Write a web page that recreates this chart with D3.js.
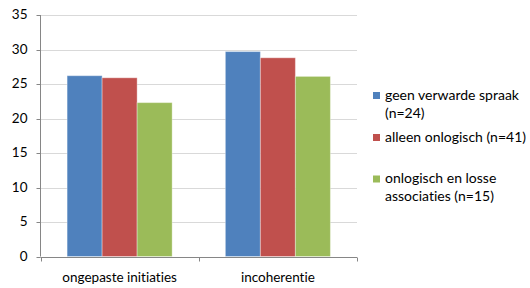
<!DOCTYPE html>
<html>
<head>
<meta charset="utf-8">
<script src="https://cdn.jsdelivr.net/npm/d3@7/dist/d3.min.js"></script>
<style>
  html, body { margin: 0; padding: 0; background: #fff; }
  svg { display: block; }
  text { font-family: Lato, "Open Sans", sans-serif; fill: #000; font-variant-ligatures: none; font-feature-settings: "liga" 0, "clig" 0; }
</style>
</head>
<body>
<svg id="chart" width="530" height="288"></svg>
<script>
const categories = ["ongepaste initiaties", "incoherentie"];
const seriesNames = ["geen verwarde spraak (n=24)", "alleen onlogisch (n=41)", "onlogisch en losse associaties (n=15)"];
const seriesLegendLines = [["geen verwarde spraak", "(n=24)"], ["alleen onlogisch (n=41)"], ["onlogisch en losse", "associaties (n=15)"]];
const seriesColors = ["#4F81BD", "#C0504D", "#9BBB59"];
const geenVerwarde = [26.2, 29.7];
const alleenOnlogisch = [25.9, 28.8];
const onlogischLosse = [22.3, 26.1];
const yTicks = [0, 5, 10, 15, 20, 25, 30, 35];

const seriesValues = [geenVerwarde, alleenOnlogisch, onlogischLosse];

(function () {
const svg = d3.select("#chart");
const pLeft = 40.5, pRight = 357, pTop = 15, pBottom = 256.5;

const y = d3.scaleLinear().domain([0, 35]).range([pBottom, pTop]);
const x0 = d3.scaleBand().domain(categories).range([pLeft, pRight]).paddingInner(0).paddingOuter(0);
const x1 = d3.scaleBand().domain(d3.range(seriesNames.length)).range([0, x0.bandwidth()]).paddingInner(0).paddingOuter(0.76);

// gridlines
svg.append("g").selectAll("line").data(yTicks.filter(d => d > 0)).join("line")
  .attr("x1", pLeft).attr("x2", pRight)
  .attr("y1", d => Math.round(y(d)) + 0.5).attr("y2", d => Math.round(y(d)) + 0.5)
  .attr("stroke", "#d9d9d9").attr("stroke-width", 1);

// y axis
const yAxis = svg.append("g").attr("transform", `translate(${pLeft},0)`)
  .call(d3.axisLeft(y).tickValues(yTicks).tickSize(4).tickPadding(9));
yAxis.select(".domain").attr("stroke", "#868686").attr("d", `M0,${y(35)}V${pBottom}`);
yAxis.selectAll(".tick line").attr("stroke", "#868686");
yAxis.selectAll(".tick text").attr("font-size", "13.5px").attr("fill", "#000").attr("dy", "0.26em")
  .attr("font-family", "Lato, sans-serif");
yAxis.selectAll(".tick").attr("transform", d => `translate(0,${Math.round(y(d)) + 0.5})`);

// bars
const groups = svg.append("g").selectAll("g").data(categories).join("g")
  .attr("transform", c => `translate(${x0(c)},0)`);
groups.selectAll("rect").data((c, ci) => seriesValues.map((vals, si) => ({si, v: vals[ci]}))).join("rect")
  .attr("x", d => x1(d.si))
  .attr("width", x1.bandwidth())
  .attr("y", d => y(d.v))
  .attr("height", d => pBottom - y(d.v))
  .attr("fill", d => seriesColors[d.si])
  .attr("stroke", "rgba(255,255,255,0.35)")
  .attr("stroke-width", 1);

// x axis
const xAxisY = Math.round(pBottom) + 0.5;
svg.append("line").attr("x1", pLeft).attr("x2", pRight).attr("y1", xAxisY).attr("y2", xAxisY)
  .attr("stroke", "#868686");
const tickXs = [pLeft, ...categories.map(c => x0(c) + x0.bandwidth())];
svg.append("g").selectAll("line").data(tickXs).join("line")
  .attr("x1", d => Math.round(d) + 0.5).attr("x2", d => Math.round(d) + 0.5)
  .attr("y1", xAxisY).attr("y2", xAxisY + 4)
  .attr("stroke", "#868686");
svg.append("g").selectAll("text").data(categories).join("text")
  .attr("x", c => x0(c) + x0.bandwidth() / 2)
  .attr("y", 282)
  .attr("text-anchor", "middle")
  .attr("font-size", "13.5px")
  .text(c => c);

// legend
const legendRows = [{base: [99.5, 117.5]}, {base: [141.5]}, {base: [183, 200.5]}];
const leg = svg.append("g");
seriesNames.forEach((name, i) => {
  const r = legendRows[i];
  leg.append("rect").attr("x", 373).attr("y", r.base[0] - 7.5).attr("width", 7).attr("height", 7).attr("fill", seriesColors[i]);
  seriesLegendLines[i].forEach((line, li) => {
    leg.append("text").attr("x", 385).attr("y", r.base[li]).attr("font-size", "14px").text(line);
  });
});
})();
</script>
</body>
</html>
